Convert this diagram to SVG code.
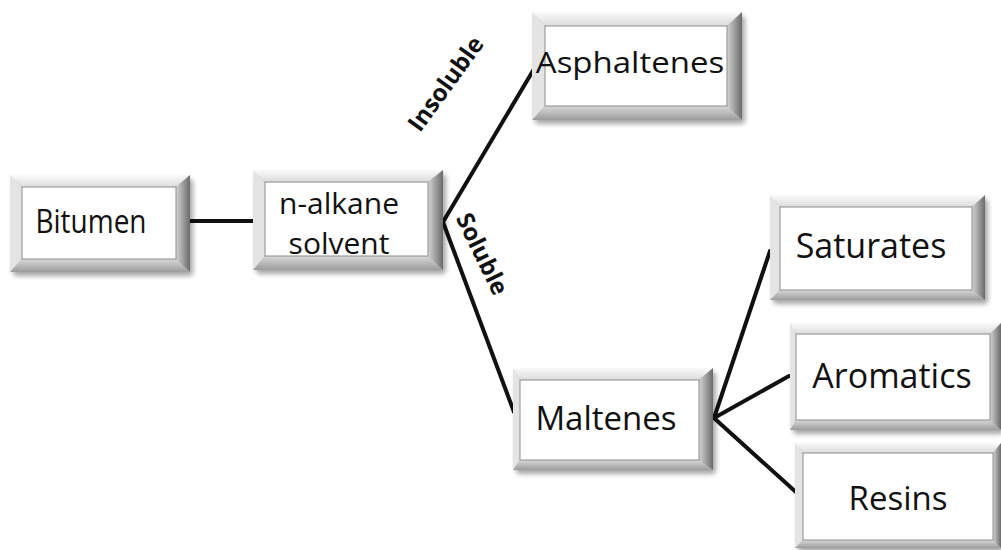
<svg xmlns="http://www.w3.org/2000/svg" width="1001" height="550" viewBox="0 0 1001 550">
<defs>
<linearGradient id="gR" x1="0" y1="0" x2="1" y2="0"><stop offset="0" stop-color="#d4d4d4"/><stop offset="1" stop-color="#6a6a6a"/></linearGradient>
<linearGradient id="gB" x1="0" y1="0" x2="0" y2="1"><stop offset="0" stop-color="#d8d8d8"/><stop offset="1" stop-color="#9c9c9c"/></linearGradient>
<linearGradient id="gT" x1="0" y1="0" x2="0" y2="1"><stop offset="0" stop-color="#fafafa"/><stop offset="1" stop-color="#dcdcdc"/></linearGradient>
<filter id="sh" x="-10%" y="-10%" width="130%" height="140%"><feGaussianBlur stdDeviation="2.5"/></filter>
</defs>
<style>
.shd{fill:#000;opacity:.35;filter:url(#sh)}
.top{fill:url(#gT)}
.lft{fill:#e4e4e4}
.rgt{fill:url(#gR)}
.bot{fill:url(#gB)}
.in{fill:#fff;stroke:#8c8c8c;stroke-width:1}
.t{font-family:"Open Sans","Liberation Sans",sans-serif;fill:#111;text-anchor:middle}
.lab{font-family:"Open Sans","Liberation Sans",sans-serif;font-weight:bold;fill:#111;text-anchor:middle;font-size:24px}
.c{stroke:#111;stroke-width:4;fill:none;stroke-linecap:round;stroke-linejoin:round}
</style>
<g id="connectors">
<line class="c" x1="188" y1="221" x2="255" y2="221"/>
<polyline class="c" points="534,69 443,222 514,412"/>
<line class="c" x1="714" y1="418" x2="770" y2="251"/>
<line class="c" x1="714" y1="418" x2="789" y2="376"/>
<line class="c" x1="714" y1="418" x2="797" y2="493"/>
</g>
<g id="bitumen">
<rect class="shd" x="13" y="179" width="180" height="97" rx="4"/>
<polygon class="top" points="10,175 190,175 176,187 22,187"/>
<polygon class="lft" points="10,175 22,187 22,259 10,272"/>
<polygon class="rgt" points="190,175 190,272 176,259 176,187"/>
<polygon class="bot" points="10,272 190,272 176,259 22,259"/>
<rect class="in" x="22" y="187" width="154" height="72"/>
<text class="t" transform="translate(91,233) scale(1,1.15)" font-size="28">Bitumen</text>
</g>
<g id="nalkane">
<rect class="shd" x="256" y="174" width="190" height="100" rx="4"/>
<polygon class="top" points="253,170 443,170 428,182 265,182"/>
<polygon class="lft" points="253,170 265,182 265,256 253,270"/>
<polygon class="rgt" points="443,170 443,270 428,256 428,182"/>
<polygon class="bot" points="253,270 443,270 428,256 265,256"/>
<rect class="in" x="265" y="182" width="163" height="74"/>
<text class="t" x="339" y="214" font-size="30">n-alkane</text>
<text class="t" x="339" y="254" font-size="30">solvent</text>
</g>
<g id="asphaltenes">
<rect class="shd" x="535" y="16" width="210" height="108" rx="4"/>
<polygon class="top" points="532,12 742,12 727,26 545,26"/>
<polygon class="lft" points="532,12 545,26 545,106 532,120"/>
<polygon class="rgt" points="742,12 742,120 727,106 727,26"/>
<polygon class="bot" points="532,120 742,120 727,106 545,106"/>
<rect class="in" x="545" y="26" width="182" height="80"/>
<text class="t" transform="translate(630,73) scale(1,0.88)" font-size="33">Asphaltenes</text>
</g>
<g id="maltenes">
<rect class="shd" x="516" y="372" width="200" height="102" rx="4"/>
<polygon class="top" points="513,368 713,368 699,380 520,380"/>
<polygon class="lft" points="513,368 520,380 520,460 513,470"/>
<polygon class="rgt" points="713,368 713,470 699,460 699,380"/>
<polygon class="bot" points="513,470 713,470 699,460 520,460"/>
<rect class="in" x="520" y="380" width="179" height="80"/>
<text class="t" x="606" y="430" font-size="33">Maltenes</text>
</g>
<g id="saturates">
<rect class="shd" x="773" y="199" width="215" height="105" rx="4"/>
<polygon class="top" points="770,195 985,195 972,207 780,207"/>
<polygon class="lft" points="770,195 780,207 780,290 770,300"/>
<polygon class="rgt" points="985,195 985,300 972,290 972,207"/>
<polygon class="bot" points="770,300 985,300 972,290 780,290"/>
<rect class="in" x="780" y="207" width="192" height="83"/>
<text class="t" x="871" y="258" font-size="34">Saturates</text>
</g>
<g id="aromatics">
<rect class="shd" x="793" y="327" width="211" height="107" rx="4"/>
<polygon class="top" points="790,323 1001,323 990,334 796,334"/>
<polygon class="lft" points="790,323 796,334 796,420 790,430"/>
<polygon class="rgt" points="1001,323 1001,430 990,420 990,334"/>
<polygon class="bot" points="790,430 1001,430 990,420 796,420"/>
<rect class="in" x="796" y="334" width="194" height="86"/>
<text class="t" x="892" y="388" font-size="34">Aromatics</text>
</g>
<g id="resins">
<rect class="shd" x="798" y="447" width="206" height="105" rx="4"/>
<polygon class="top" points="795,443 1001,443 993,453 803,453"/>
<polygon class="lft" points="795,443 803,453 803,540 795,548"/>
<polygon class="rgt" points="1001,443 1001,548 993,540 993,453"/>
<polygon class="bot" points="795,548 1001,548 993,540 803,540"/>
<rect class="in" x="803" y="453" width="190" height="87"/>
<text class="t" x="898" y="510" font-size="33">Resins</text>
</g>
<g id="labels">
<text class="lab" transform="translate(446,84) rotate(-54)" y="8">Insoluble</text>
<text class="lab" transform="translate(482,254) rotate(64)" y="8">Soluble</text>
</g>
</svg>
